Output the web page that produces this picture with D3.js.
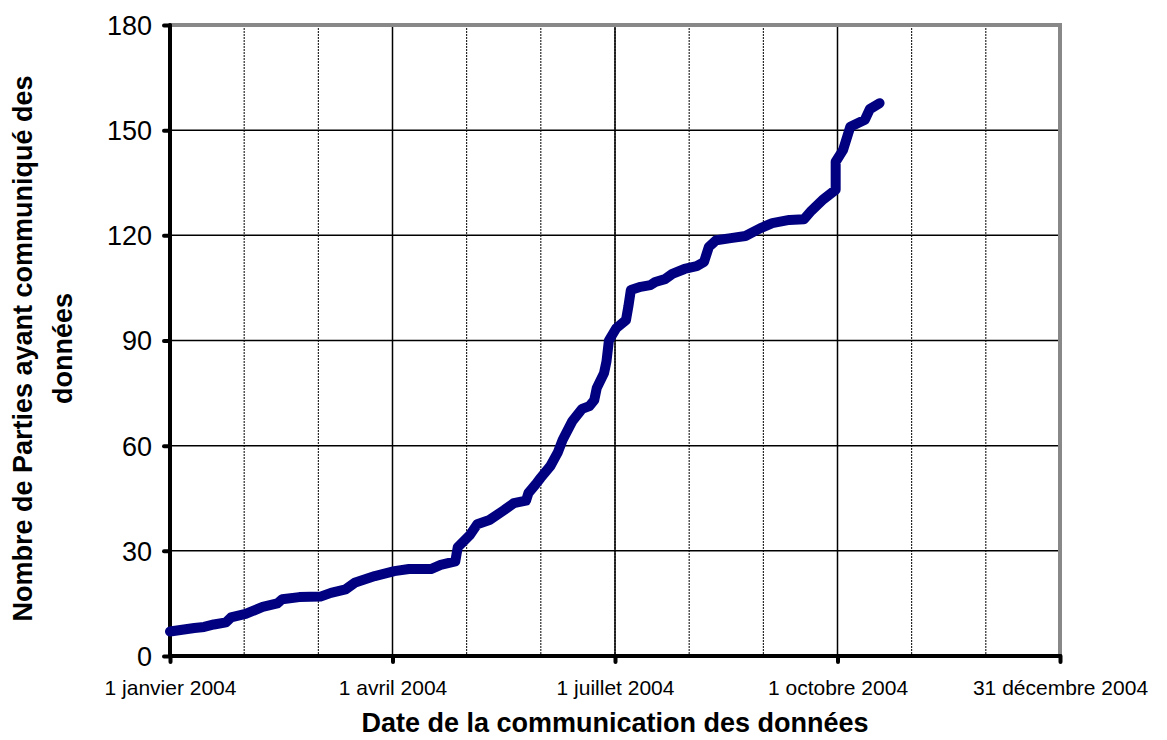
<!DOCTYPE html>
<html>
<head>
<meta charset="utf-8">
<script src="https://cdn.jsdelivr.net/npm/d3@7"></script>
<style>
    body { margin: 0; background: #FFFFFF; }
    text { font-family: Arial, "Liberation Sans", sans-serif; fill: #000000; }
</style>
</head>
<body>
<div id="chart"></div>
<script>
// dates of communication and cumulative number of Parties
const dates = ['2004-01-01','2004-01-06','2004-01-11','2004-01-15','2004-01-19','2004-01-24','2004-01-26',
    '2004-02-01','2004-02-08','2004-02-14','2004-02-16','2004-02-23','2004-03-03','2004-03-07','2004-03-13',
    '2004-03-17','2004-03-25','2004-04-02','2004-04-08','2004-04-17','2004-04-21','2004-04-27','2004-04-28',
    '2004-05-03','2004-05-06','2004-05-11','2004-05-17','2004-05-21','2004-05-26','2004-05-27','2004-05-30',
    '2004-06-01','2004-06-05','2004-06-08','2004-06-10','2004-06-14','2004-06-18','2004-06-21','2004-06-23',
    '2004-06-24','2004-06-27','2004-06-28','2004-06-29','2004-07-02','2004-07-06','2004-07-07','2004-07-08',
    '2004-07-12','2004-07-16','2004-07-18','2004-07-22','2004-07-25','2004-07-30','2004-08-04','2004-08-07',
    '2004-08-09','2004-08-12','2004-08-18','2004-08-24','2004-08-30','2004-09-04','2004-09-11','2004-09-17',
    '2004-09-20','2004-09-25','2004-09-30','2004-09-30','2004-10-03','2004-10-06','2004-10-09','2004-10-12',
    '2004-10-14','2004-10-18'];
const counts = [7, 7.5, 8, 8.3, 9, 9.6, 11,
    12, 14, 15, 16.2, 16.8, 17, 18, 19,
    21, 22.8, 24.2, 24.8, 24.8, 26, 27, 31,
    34.5, 37.6, 38.8, 41.6, 43.6, 44.3, 46.5, 49,
    50.8, 54.2, 58, 61.6, 67, 70.5, 71.3, 73,
    76.4, 80.7, 84, 90, 93.5, 95.8, 99.8, 104.4,
    105.3, 105.8, 106.7, 107.5, 109, 110.4, 111.2, 112.4,
    116.7, 118.6, 119.2, 119.8, 122, 123.5, 124.4, 124.6,
    127, 130.3, 133, 141, 144.3, 151, 152, 153,
    156, 157.7];

const y_ticks = [0, 30, 60, 90, 120, 150, 180];
const x_tick_labels = ['1 janvier 2004', '1 avril 2004', '1 juillet 2004', '1 octobre 2004', '31 décembre 2004'];
const x_title = 'Date de la communication des données';
const y_title = ['Nombre de Parties ayant communiqué des', 'données'];

const width = 1167, height = 740;
const margin = {left: 170, right: 107, top: 25, bottom: 84};

function draw_chart() {
    let parse = d3.utcParse('%Y-%m-%d');
    let data = dates.map((d, i) => ({date: parse(d), value: counts[i]}));

    let start = parse('2004-01-01'), end = parse('2004-12-31');
    let x = d3.scaleUtc()
        .domain([start, end])
        .range([margin.left, width - margin.right]);
    let y = d3.scaleLinear()
        .domain([0, 180])
        .range([height - margin.bottom, margin.top]);

    // minor and major date positions (Excel style, evenly spaced)
    let span = end - start;
    let minor = d3.range(1, 12).map(i => new Date(+start + span * i / 12));
    let major = d3.range(0, 5).map(i => new Date(+start + span * i / 4));

    let svg = d3.select('#chart').append('svg')
        .attr('width', width)
        .attr('height', height);

    // vertical gridlines
    svg.append('g').selectAll('line')
        .data(minor)
        .enter().append('line')
        .attr('x1', d => x(d)).attr('x2', d => x(d))
        .attr('y1', y(180)).attr('y2', y(0))
        .attr('stroke', '#000000')
        .attr('stroke-width', 1)
        .attr('stroke-dasharray', '2,1');
    svg.append('g').selectAll('line')
        .data(major.slice(1, 4))
        .enter().append('line')
        .attr('x1', d => x(d)).attr('x2', d => x(d))
        .attr('y1', y(180)).attr('y2', y(0))
        .attr('stroke', '#000000')
        .attr('stroke-width', 1.5);

    // horizontal gridlines
    svg.append('g').selectAll('line')
        .data(y_ticks.slice(1, 6))
        .enter().append('line')
        .attr('x1', x(start)).attr('x2', x(end))
        .attr('y1', d => y(d)).attr('y2', d => y(d))
        .attr('stroke', '#000000')
        .attr('stroke-width', 1.5);

    // frame top and right (grey)
    svg.append('path')
        .attr('d', `M${x(start)},${y(180)}H${x(end)}V${y(0)}`)
        .attr('fill', 'none')
        .attr('stroke', '#888888')
        .attr('stroke-width', 4);

    // y axis
    let yAxis = svg.append('g')
        .attr('transform', `translate(${x(start)},0)`)
        .call(d3.axisLeft(y).tickValues(y_ticks).tickSize(6).tickPadding(12));
    yAxis.select('.domain').remove();
    yAxis.selectAll('.tick line')
        .attr('stroke', '#000000')
        .attr('stroke-width', 4)
        .attr('stroke-linecap', 'round');
    yAxis.selectAll('.tick text')
        .style('font-size', '27px')
        .attr('dy', '0.35em');
    yAxis.append('line')
        .attr('y1', y(180)).attr('y2', y(0))
        .attr('stroke', '#000000')
        .attr('stroke-width', 4)
        .attr('stroke-linecap', 'round');

    // x axis
    let xAxis = svg.append('g')
        .attr('transform', `translate(0,${y(0)})`)
        .call(d3.axisBottom(x).tickValues(major).tickSize(6).tickPadding(18)
            .tickFormat((d, i) => x_tick_labels[i]));
    xAxis.select('.domain').remove();
    xAxis.selectAll('.tick line')
        .attr('stroke', '#000000')
        .attr('stroke-width', 4)
        .attr('stroke-linecap', 'round');
    xAxis.selectAll('.tick text')
        .style('font-size', '21px');
    xAxis.append('line')
        .attr('x1', x(start)).attr('x2', x(end))
        .attr('stroke', '#000000')
        .attr('stroke-width', 4)
        .attr('stroke-linecap', 'round');

    // data line
    let line = d3.line()
        .x(d => x(d.date))
        .y(d => y(d.value));
    svg.append('path')
        .datum(data)
        .attr('d', line)
        .attr('fill', 'none')
        .attr('stroke', '#000080')
        .attr('stroke-width', 10)
        .attr('stroke-linejoin', 'round')
        .attr('stroke-linecap', 'round');

    // titles
    svg.append('text')
        .text(x_title)
        .attr('x', (x(start) + x(end)) / 2)
        .attr('y', 732)
        .attr('text-anchor', 'middle')
        .style('font-size', '27px')
        .style('font-weight', 'bold');

    let yt = svg.append('text')
        .attr('transform', `translate(32,${(y(0) + y(180)) / 2 + 8}) rotate(-90)`)
        .attr('text-anchor', 'middle')
        .style('font-size', '27px')
        .style('font-weight', 'bold');
    yt.selectAll('tspan')
        .data(y_title)
        .enter().append('tspan')
        .attr('x', 0)
        .attr('dy', (d, i) => i === 0 ? 0 : 40)
        .text(d => d);
}

draw_chart();
</script>
</body>
</html>
